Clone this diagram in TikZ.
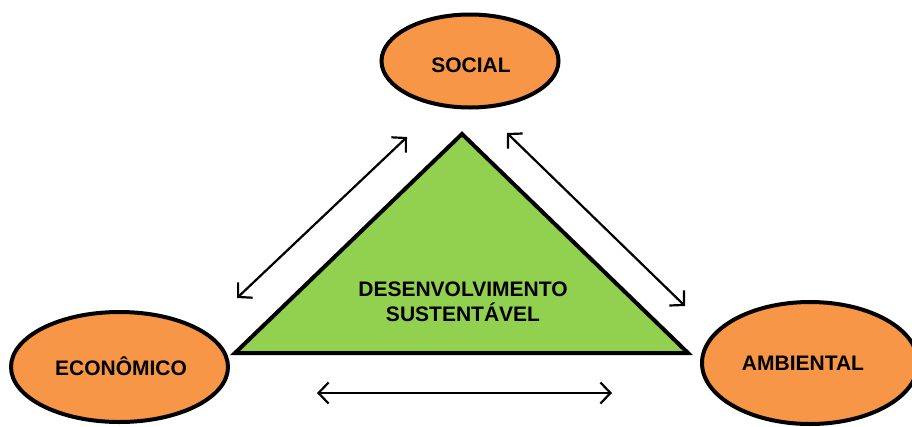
\documentclass[tikz,border=0pt]{standalone}
\usepackage{fontspec}
\setmainfont{Liberation Sans}
\usetikzlibrary{shapes.geometric,arrows.meta}
\definecolor{laranja}{HTML}{F79646}
\definecolor{verde}{HTML}{92D050}
\tikzset{
  pilar/.style={ellipse, draw=black, line width=4pt, fill=laranja, inner sep=0pt},
  rotulo/.style={font=\fontsize{21}{25.5}\selectfont\bfseries, align=center},
  seta/.style={line width=2.2pt, {Straight Barb[length=10pt,width=21pt]}-{Straight Barb[length=10pt,width=21pt]}}
}
\begin{document}
\begin{tikzpicture}[x=1pt,y=-1pt]
	\useasboundingbox (0,0) rectangle (912,426);
	
     \coordinate (A) at (462,134);
      \coordinate (B) at (235,353);
       \coordinate (C) at (688,353);
       
      \coordinate (a) at (237,298);
      \coordinate (b) at (407,137);
      \coordinate (c) at (507,133);
      \coordinate (d) at (685,306);
      \coordinate (e) at (317,393);
      \coordinate (f) at (612,393);
      
    \draw[line width=4pt, fill=verde, line join=miter] (A) -- (B) -- (C) -- cycle;
    
    \node[pilar, minimum width=177pt, minimum height=93pt] (social) at (470,61) {};
    \node[pilar, minimum width=217pt, minimum height=110pt] (economico) at (119.5,367) {};
    \node[pilar, minimum width=216pt, minimum height=122pt] (ambiental) at (810,363) {};
    
    \node[rotulo] (tsocial) at (471,65) {SOCIAL};
    \node[rotulo] (teconomico) at (121,366) {ECONÔMICO};
    \node[rotulo] (tambiental) at (803,363) {AMBIENTAL};
    \node[rotulo] (centro) at (463,302) {DESENVOLVIMENTO\\SUSTENTÁVEL};
    
    \tikzset{every path/.style={seta}}
    \draw (a) -- (b);
     \draw (c) -- (d);
      \draw (e) -- (f);
    
\end{tikzpicture}
\end{document}
